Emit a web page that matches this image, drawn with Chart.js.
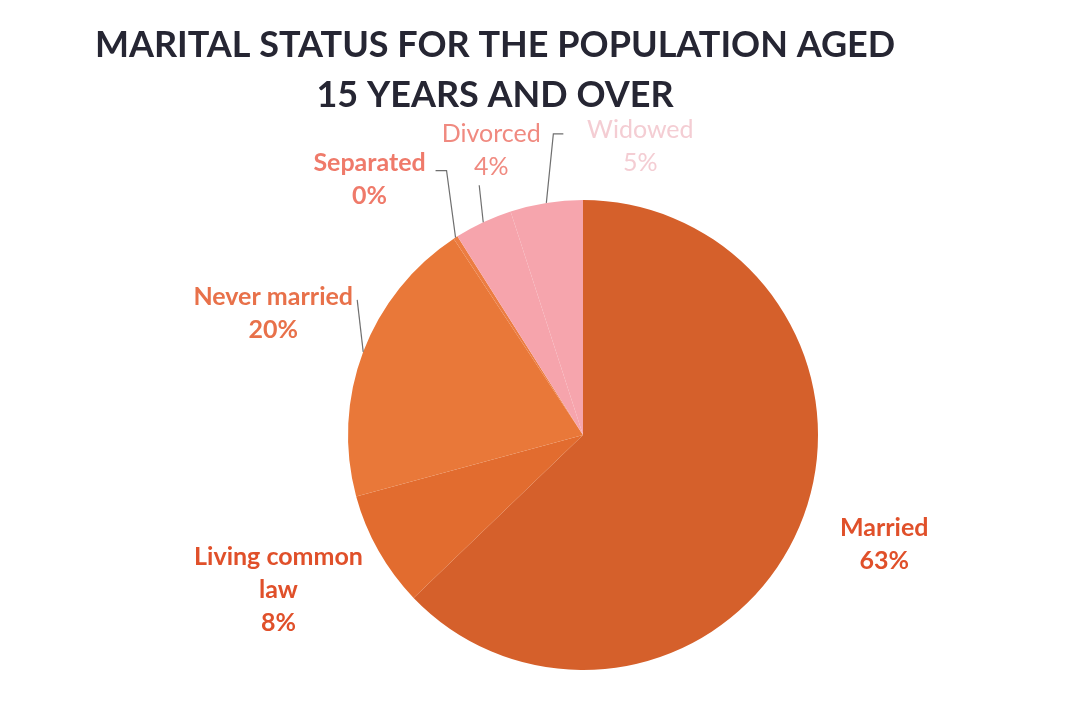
<!DOCTYPE html>
<html>
<head>
<meta charset="utf-8">
<script src="https://cdn.jsdelivr.net/npm/chart.js@4.4.1/dist/chart.umd.min.js"></script>
<style>
  body { margin: 0; background: #fff; }
</style>
</head>
<body>
<canvas id="maritalChart" width="1090" height="717"></canvas>
<script>
// data
const categories = ['Married', 'Living common law', 'Never married', 'Separated', 'Divorced', 'Widowed'];
const shares = [63, 8, 20, 0.3, 4, 5];
const titleLines = ['MARITAL STATUS FOR THE POPULATION AGED', '15 YEARS AND OVER'];

// styling
const sliceColors = ['#D5602B', '#E26C2F', '#E97839', '#EC7D42', '#F6A4AC', '#F6A5AD'];
const labelColors = ['#E0502A', '#E0502A', '#E8714A', '#EF7A6A', '#F08A80', '#F4CDD3'];
const labelWeights = ['bold', 'bold', 'bold', 'bold', 'normal', 'normal'];
// label lines (category name wrapped the way the picture shows it)
const labelText = [['Married'], ['Living common', 'law'], ['Never married'], ['Separated'], ['Divorced'], ['Widowed']];
// label block centre, relative to the slice's outer edge point
const labelOffsets = [[85, 17], [-100, 39], [-90, -38], [-86, -58], [8, -72], [94, -56]];
// leader lines, points relative to the outer edge point
const leaders = [null, null, [[-6, -52]], [[-9, -67], [-20, -67]], [[-4, -37]], [[7, -69], [17, -69]]];

const outsideLabels = {
    id: 'outsideLabels',
    afterDraw(chart) {
        const ctx = chart.ctx;
        const arcs = chart.getDatasetMeta(0).data;
        ctx.save();
        arcs.forEach((arc, i) => {
            const mid = (arc.startAngle + arc.endAngle) / 2;
            const ex = arc.x + Math.cos(mid) * arc.outerRadius;
            const ey = arc.y + Math.sin(mid) * arc.outerRadius;

            if (leaders[i]) {
                ctx.strokeStyle = '#6f6f6f';
                ctx.lineWidth = 1.2;
                ctx.beginPath();
                ctx.moveTo(ex, ey);
                leaders[i].forEach(p => ctx.lineTo(ex + p[0], ey + p[1]));
                ctx.stroke();
            }

            const lines = labelText[i].concat([Math.round(shares[i]) + '%']);
            const lh = 33;
            const cx = ex + labelOffsets[i][0];
            const cy = ey + labelOffsets[i][1] - (lines.length - 1) * lh / 2;
            ctx.fillStyle = labelColors[i];
            ctx.font = labelWeights[i] + ' 25px Lato';
            ctx.textAlign = 'center';
            ctx.textBaseline = 'middle';
            lines.forEach((t, k) => ctx.fillText(t, cx, cy + k * lh));
        });

        // title
        ctx.fillStyle = '#262633';
        ctx.font = 'bold 36px Lato';
        ctx.textAlign = 'center';
        ctx.textBaseline = 'middle';
        titleLines.forEach((t, k) => ctx.fillText(t, 495, 45 + k * 50));
        ctx.restore();
    }
};

const ctx = document.getElementById('maritalChart').getContext('2d');
new Chart(ctx, {
    type: 'pie',
    data: {
        labels: categories,
        datasets: [{
            data: shares,
            backgroundColor: sliceColors,
            borderWidth: 0
        }]
    },
    options: {
        responsive: false,
        animation: false,
        layout: {
            padding: { top: 200, bottom: 47, left: 348, right: 272 }
        },
        plugins: {
            legend: { display: false },
            tooltip: { enabled: false }
        }
    },
    plugins: [outsideLabels]
});
</script>
</body>
</html>
